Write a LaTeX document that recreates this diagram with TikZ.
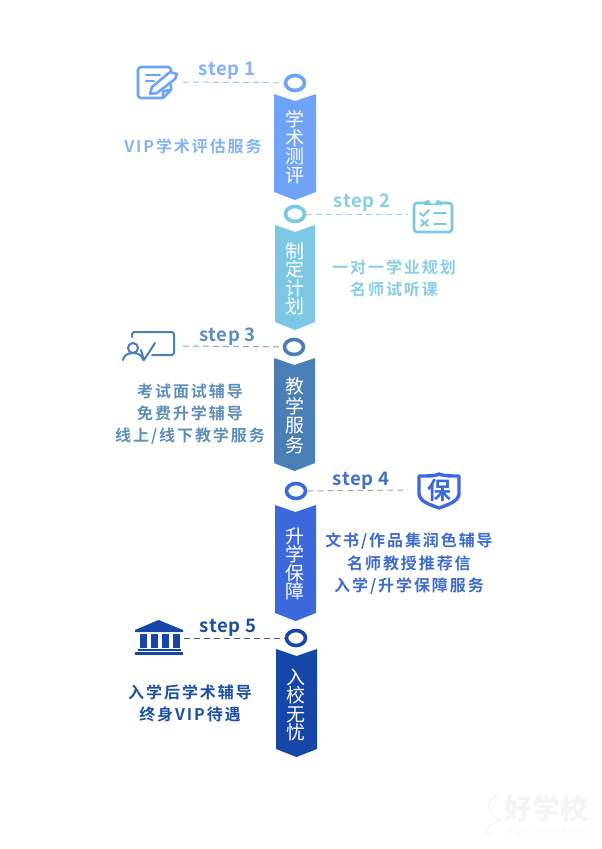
\documentclass[tikz,border=0pt]{standalone}
\usepackage{fontspec}
\setmainfont{Noto Sans CJK SC}[BoldFont={* Bold}]
\setsansfont{Noto Sans CJK SC}
\usetikzlibrary{shapes.geometric}
\definecolor{cA}{HTML}{6FA3F7}\definecolor{cB}{HTML}{7CC7E3}\definecolor{cC}{HTML}{4A7FB5}\definecolor{cD}{HTML}{3B69DB}\definecolor{cE}{HTML}{1546A8}
\definecolor{tA}{HTML}{85B3F2}\definecolor{tB}{HTML}{8ACDE5}\definecolor{tC}{HTML}{5F8FB8}\definecolor{tD}{HTML}{3F6BCB}\definecolor{tE}{HTML}{1E4FA0}
\newcommand{\fsz}[1]{\fontsize{#1pt}{#1pt}\selectfont}
\tikzset{
  ring/.style={draw=#1,line width=3.6pt,ellipse,minimum width=19pt,minimum height=15pt,inner sep=0pt,fill=white},
  steplabel/.style={text=#1,font=\fsz{18.6}\bfseries\addfontfeatures{LetterSpace=3},inner sep=0pt},
  bodytext/.style={text=#1,font=\fsz{16}\bfseries\addfontfeatures{LetterSpace=12},align=center,inner sep=0pt},
  bannertext/.style={text=white,font=\fontsize{19pt}{18.5pt}\selectfont,align=center,inner sep=0pt},
  leader/.style={draw=#1,dashed,dash pattern=on 6pt off 4pt,line width=1pt},
  bannerfill/.style={fill=#1,draw=none},
  iconline/.style={draw=#1,line width=2.6pt,line cap=round,line join=round,fill=none}
}
\newcommand{\bannershape}[6]{% xl xr ytop ynotch ybot colour
  \path[bannerfill=#6] (#1,#3) -- ({(#1+#2)/2},#4) -- (#2,#3) -- (#2,#5) -- ({(#1+#2)/2},{#5+8}) -- (#1,#5) -- cycle;}
\begin{document}
\begin{tikzpicture}[x=1pt,y=-1pt]
\useasboundingbox (0,0) rectangle (602,849);
\fill[white] (0,0) rectangle (602,849);

% banners
\bannershape{274}{316}{94}{101}{192}{cA}
\bannershape{275}{315}{225}{232}{322}{cB}
\bannershape{274}{315}{358}{365}{463}{cC}
\bannershape{275}{316}{505}{512}{613}{cD}
\bannershape{276}{317}{649}{656}{749}{cE}
\node[bannertext] (b1) at (295,147) {学\\术\\测\\评};
\node[bannertext] (b2) at (295,279) {制\\定\\计\\划};
\node[bannertext] (b3) at (295,416) {教\\[1pt]学\\[1pt]服\\[1pt]务};
\node[bannertext] (b4) at (295,564) {升\\学\\保\\障};
\node[bannertext] (b5) at (296,705) {入\\校\\无\\忧};

% rings
\node[ring=cA] (r1) at (295,83) {};
\node[ring=cB] (r2) at (295,214) {};
\node[ring=cC] (r3) at (294,347) {};
\node[ring=cD] (r4) at (296,491) {};
\node[ring=cE] (r5) at (296,638) {};

% leader ends
\coordinate (e1) at (183,82);
\coordinate (e2) at (408,214);
\coordinate (e3) at (183,346);
\coordinate (e4) at (408,490);
\coordinate (e5) at (184,638);
\draw[leader=tA!80] (e1) -- (r1);
\draw[leader=tB!90] (r2) -- (e2);
\draw[leader=tC!80] (e3) -- (r3);
\draw[leader=black!35] (r4) -- (e4);
\draw[leader=black!35!tC] (e5) -- (r5);

% labels
\node[steplabel=tA] (s1) at (227,71) {step 1};
\node[steplabel=tB] (s2) at (362,203) {step 2};
\node[steplabel=tC] (s3) at (227.5,337) {step 3};
\node[steplabel=tD!85!tC] (s4) at (361,481) {step 4};
\node[steplabel=tE] (s5) at (228,628) {step 5};

\node[bodytext=tA] (t1) at (193,146.5) {VIP学术评估服务};
\node[bodytext=tB] (t2) at (394,278.5) {一对一学业规划\\[6pt]名师试听课};
\node[bodytext=tC] (t3) at (190,414.5) {考试面试辅导\\[6pt]免费升学辅导\\[6pt]线上/线下教学服务};
\node[bodytext=tD] (t4) at (409,563.5) {文书/作品集润色辅导\\[6pt]名师教授推荐信\\[6pt]入学/升学保障服务};
\node[bodytext=tE] (t5) at (190,703.5) {入学后学术辅导\\[6pt]终身VIP待遇};

% icon 1: note with pencil
\draw[iconline=cA,rounded corners=3pt] (162,98) -- (138,98) -- (138,67) -- (171,67) -- (171,71);
\draw[iconline=cA] (146,75) -- (160,75) (146,81) -- (154,81);
\draw[iconline=cA] (150,94) -- (152,87) -- (170,72) -- (177,74) -- (175,79) -- (157,93) -- cycle;
\draw[iconline=cA] (171,85) -- (171,90) -- (163,98) -- (163,91) -- (171,90);

% icon 2: clipboard
\draw[iconline=cB,rounded corners=3pt] (425,203) -- (414,203) -- (414,232) -- (452,232) -- (452,203) -- (441,203);
\fill[cB] (424,205) -- (425,201) -- (429,200) arc[start angle=180,end angle=0,radius=4] -- (441,201) -- (442,205) -- cycle;
\draw[iconline=cB,line width=1.9pt] (420,213) -- (423,216) -- (429,210) (434,213) -- (446,213);
\draw[iconline=cB,line width=1.9pt] (421,220) -- (428,226) (428,220) -- (421,226) (434,224) -- (446,224);

% icon 3: board and person
\draw[iconline=cC,line width=2pt,rounded corners=2.5pt] (132,337) -- (132,332) -- (174,332) -- (174,355) -- (152,355);
\draw[iconline=cC,line width=2pt] (133,348) circle[radius=5];
\draw[iconline=cC,line width=2pt] (123,360) .. controls (124,355) and (128,353) .. (133,353) .. controls (138,353) and (142,355) .. (143,360);
\draw[iconline=cC,line width=2pt] (141,350) -- (144,360) -- (155,343);

% icon 4: shield
\draw[iconline=cD,line width=3.4pt] (419,476) .. controls (430,476) and (435,476) .. (439,474) .. controls (444,476) and (450,476) .. (459,476) -- (459,494) .. controls (458,502) and (447,505) .. (439,508) .. controls (431,505) and (420,502) .. (419,494) -- cycle;
\node[text=cD,font=\fsz{24}\bfseries,inner sep=0pt] (shieldmark) at (439,490) {保};

% icon 5: bank
\fill[cE] (158.5,620) -- (183,630) -- (183,632) -- (135,632) -- (135,630) -- cycle;
\foreach \xx in {140,151,162,173} \fill[cE] (\xx,634) rectangle +(7,14);
\fill[cE] (138,649) rectangle (181,650.5);
\fill[cE] (135,651.5) rectangle (183,654.5);

% watermark
\definecolor{wm}{HTML}{F5F5F5}
\node[text=wm,font=\fsz{28}\bfseries\itshape,inner sep=0pt] (w1) at (546,809) {好学校};
\node[text=wm,font=\fsz{9},inner sep=0pt] (w2) at (547,832) {91goodschool.com};
\draw[wm,line width=1.2pt] (500,795) .. controls (480,800) and (490,815) .. (500,820) .. controls (490,825) and (480,830) .. (490,835);
\end{tikzpicture}
\end{document}
